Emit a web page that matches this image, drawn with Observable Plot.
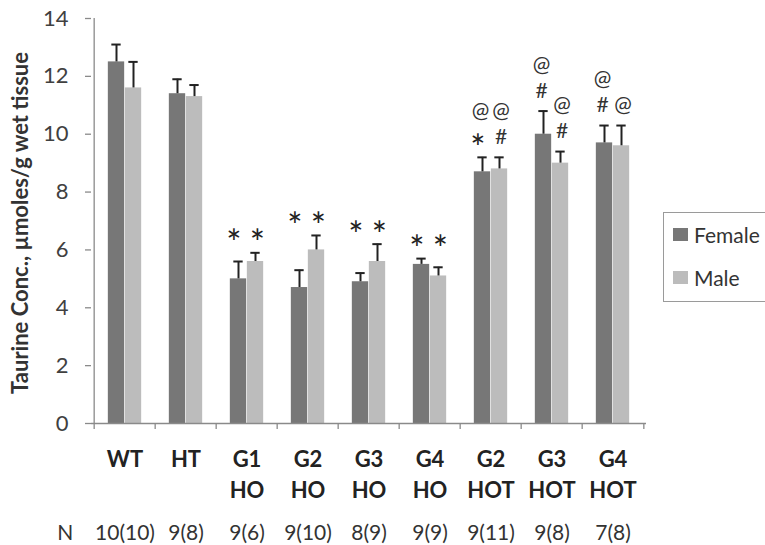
<!DOCTYPE html>
<html>
<head>
<meta charset="utf-8">
<script src="https://cdn.jsdelivr.net/npm/d3@7"></script>
<script src="https://cdn.jsdelivr.net/npm/@observablehq/plot@0.6"></script>
<style>
  html, body { margin: 0; padding: 0; background: #fff; }
  #wrap { position: relative; width: 765px; height: 545px; overflow: hidden; font-family: Lato, "Open Sans", sans-serif; }
  #legend { position: absolute; left: 663px; top: 212px; width: 130px; height: 90px; border: 1px solid #9a9a9a; background: #fff; box-sizing: border-box; }
  .item { position: absolute; left: 9px; display: flex; align-items: center; font-size: 21px; color: #333; }
  .sw { width: 15px; height: 13px; margin-right: 6px; }
</style>
</head>
<body>
<div id="wrap"></div>
<script>
// ---- data ----
const categories = ["WT", "HT", "G1 HO", "G2 HO", "G3 HO", "G4 HO", "G2 HOT", "G3 HOT", "G4 HOT"];
const categoryLabels = ["WT", "HT", "G1\nHO", "G2\nHO", "G3\nHO", "G4\nHO", "G2\nHOT", "G3\nHOT", "G4\nHOT"];
const nLabels = ["10(10)", "9(8)", "9(6)", "9(10)", "8(9)", "9(9)", "9(11)", "9(8)", "7(8)"];
const series = ["Female", "Male"];
const seriesColors = ["#777777", "#bcbcbc"];
const femaleValues = [12.5, 11.4, 5.0, 4.7, 4.9, 5.5, 8.7, 10.0, 9.7];
const femaleErrors = [0.6, 0.5, 0.6, 0.6, 0.3, 0.2, 0.5, 0.8, 0.6];
const maleValues = [11.6, 11.3, 5.6, 6.0, 5.6, 5.1, 8.8, 9.0, 9.6];
const maleErrors = [0.9, 0.4, 0.3, 0.5, 0.6, 0.3, 0.4, 0.4, 0.7];
const femaleMarks = ["", "", "*", "*", "*", "*", "@\n*", "@\n#", "@\n#"];
const maleMarks = ["", "", "*", "*", "*", "*", "@\n#", "@\n#", "@"];
const yTicks = [0, 2, 4, 6, 8, 10, 12, 14];
const yTitle = "Taurine Conc., µmoles/g wet tissue";

// ---- table ----
const rows = [];
categories.forEach((c, i) => {
  const fTop = femaleValues[i] + femaleErrors[i];
  const mTop = maleValues[i] + maleErrors[i];
  const starsOnly = femaleMarks[i] === "*" && maleMarks[i] === "*";
  const anchorF = starsOnly ? Math.max(fTop, mTop) : fTop;
  const anchorM = starsOnly ? Math.max(fTop, mTop) : mTop;
  rows.push({cat: c, sex: "Female", value: femaleValues[i], top: fTop, mark: femaleMarks[i], anchor: anchorF});
  rows.push({cat: c, sex: "Male", value: maleValues[i], top: mTop, mark: maleMarks[i], anchor: anchorM});
});
const F = rows.filter(d => d.sex === "Female");
const M = rows.filter(d => d.sex === "Male");
// annotation glyphs: lower line (next to the error bar) and upper line
const notes = [];
rows.forEach(r => {
  if (!r.mark) return;
  const lines = r.mark.split("\n");
  notes.push({...r, glyph: lines[lines.length - 1], level: 0});
  if (lines.length > 1) notes.push({...r, glyph: lines[0], level: 1});
});

// ---- layout ----
const W = 765, H = 545;
const mL = 91, mR = 119, mT = 18, mB = 122;
const step = (W - mL - mR) / categories.length;
const barW = 17, capW = 10;
const axisColor = "#8a8a8a";
const font = "Lato, 'Open Sans', sans-serif";

function noteMarks(sex) {
  const female = sex === "Female";
  const offStar = female ? -13 : 10.5;
  const off = female ? -10.5 : 10;
  const mine = notes.filter(d => d.sex === sex);
  return [
    Plot.text(mine.filter(d => d.glyph === "*"), {x: "cat", y: "anchor", text: "glyph", dx: offStar, dy: -8, lineAnchor: "middle", fontSize: 36, fill: "#222"}),
    Plot.text(mine.filter(d => d.glyph !== "*" && d.level === 0), {x: "cat", y: "anchor", text: "glyph", dx: off, dy: -20, lineAnchor: "middle", fontSize: 21, fill: "#333"}),
    Plot.text(mine.filter(d => d.level === 1), {x: "cat", y: "anchor", text: "glyph", dx: off, dy: -46, lineAnchor: "middle", fontSize: 21, fill: "#333"})
  ];
}

const chart = Plot.plot({
  width: W, height: H,
  marginLeft: mL, marginRight: mR, marginTop: mT, marginBottom: mB,
  style: {fontFamily: font, background: "#fff", overflow: "visible"},
  x: {domain: categories, padding: 0, axis: null},
  y: {domain: [0, 14], axis: null},
  color: {domain: series, range: seriesColors},
  marks: [
    // bars
    Plot.barY(F, {x: "cat", y: "value", fill: "sex", insetLeft: step / 2 - barW, insetRight: step / 2}),
    Plot.barY(M, {x: "cat", y: "value", fill: "sex", insetLeft: step / 2, insetRight: step / 2 - barW}),
    // error bars (upper only)
    Plot.ruleX(F, {x: "cat", y1: "value", y2: "top", dx: -barW / 2, stroke: "#222", strokeWidth: 2}),
    Plot.ruleX(M, {x: "cat", y1: "value", y2: "top", dx: barW / 2, stroke: "#222", strokeWidth: 2}),
    Plot.tickY(F, {x: "cat", y: "top", stroke: "#222", strokeWidth: 2,
      insetLeft: step / 2 - barW / 2 - capW / 2, insetRight: step / 2 + barW / 2 - capW / 2}),
    Plot.tickY(M, {x: "cat", y: "top", stroke: "#222", strokeWidth: 2,
      insetLeft: step / 2 + barW / 2 - capW / 2, insetRight: step / 2 - barW / 2 - capW / 2}),
    // significance marks
    ...noteMarks("Female"),
    ...noteMarks("Male"),
    // axes lines
    Plot.ruleY([0], {stroke: axisColor, strokeWidth: 1.3}),
    Plot.ruleX([categories[0]], {x: d => d, dx: -step / 2, y1: 0, y2: 14, stroke: axisColor, strokeWidth: 1.3}),
    // x boundary ticks
    Plot.ruleX(categories, {x: d => d, dx: -step / 2, y1: 0, y2: 0, insetBottom: -6, stroke: axisColor, strokeWidth: 1.3}),
    Plot.ruleX([categories[categories.length - 1]], {x: d => d, dx: step / 2, y1: 0, y2: 0, insetBottom: -6, stroke: axisColor, strokeWidth: 1.3}),
    // y axis
    Plot.axisY({ticks: yTicks, tickSize: 6, tickFormat: () => "", stroke: axisColor, strokeWidth: 1.3, label: null}),
    Plot.axisY({ticks: yTicks, tickSize: 0, tickPadding: 23, fontSize: 22, color: "#404040", label: null}),
    // y title
    Plot.text([yTitle], {frameAnchor: "left", textAnchor: "middle", rotate: -90, dx: -71, dy: 2, fontSize: 22, fontWeight: "bold", fill: "#333"}),
    // x category labels
    Plot.text(categories, {x: d => d, y: 0, text: (d, i) => categoryLabels[i], lineAnchor: "top", dy: 21, lineHeight: 1.42, fontSize: 22, fontWeight: "bold", fill: "#222"}),
    // N row
    Plot.text(categories, {x: d => d, y: 0, text: (d, i) => nLabels[i], lineAnchor: "top", dy: 102, fontSize: 21, fill: "#333"}),
    Plot.text(["N"], {x: () => categories[0], y: 0, dx: -step / 2 - 29, lineAnchor: "top", dy: 102, fontSize: 21, fill: "#333"})
  ]
});

const wrap = document.getElementById("wrap");
wrap.appendChild(chart);

// legend
const legend = document.createElement("div");
legend.id = "legend";
series.forEach((s, i) => {
  const item = document.createElement("div");
  item.className = "item";
  item.style.top = (i === 0 ? 9 : 52) + "px";
  const sw = document.createElement("span");
  sw.className = "sw";
  sw.style.background = seriesColors[i];
  const t = document.createElement("span");
  t.textContent = s;
  item.appendChild(sw);
  item.appendChild(t);
  legend.appendChild(item);
});
wrap.appendChild(legend);
</script>
</body>
</html>
